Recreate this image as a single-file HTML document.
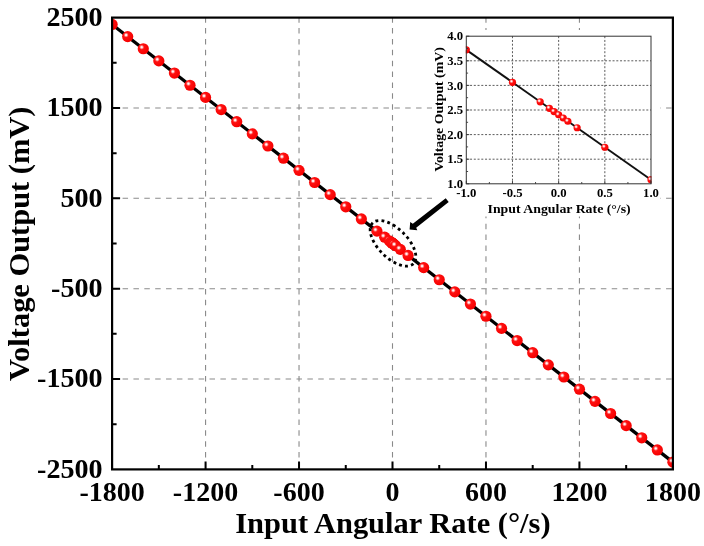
<!DOCTYPE html>
<html><head><meta charset="utf-8"><title>chart</title>
<style>html,body{margin:0;padding:0;background:#fff}svg{display:block}svg{will-change:transform}text{font-family:"Liberation Serif",serif;font-weight:bold;fill:#000}</style>
</head><body>
<svg width="704" height="546" viewBox="0 0 704 546">
<defs>
<radialGradient id="ball" cx="0.36" cy="0.36" r="0.66" fx="0.36" fy="0.36"><stop offset="0" stop-color="#ffffff"/><stop offset="0.10" stop-color="#ffe8e8"/><stop offset="0.22" stop-color="#ff7070"/><stop offset="0.34" stop-color="#ff1010"/><stop offset="1" stop-color="#f40000"/></radialGradient>
<radialGradient id="ball2" cx="0.36" cy="0.36" r="0.66" fx="0.36" fy="0.36"><stop offset="0" stop-color="#ffffff"/><stop offset="0.14" stop-color="#ffe0e0"/><stop offset="0.28" stop-color="#ff7070"/><stop offset="0.42" stop-color="#ff1010"/><stop offset="1" stop-color="#f40000"/></radialGradient>
<clipPath id="cpm"><rect x="111.1" y="16.6" width="562.8" height="453.8"/></clipPath>
</defs>
<rect width="704" height="546" fill="#fff"/>
<path d="M205.57 17.60V469.40M299.03 17.60V469.40M392.50 17.60V469.40M485.97 17.60V469.40M579.43 17.60V469.40M112.10 379.04H672.90M112.10 288.68H672.90M112.10 198.32H672.90M112.10 107.96H672.90" fill="none" stroke="#8a8a8a" stroke-width="1.1" stroke-dasharray="5.5 5.37" stroke-dashoffset="0.4"/>
<g clip-path="url(#cpm)">
<line x1="112.10" y1="24.44" x2="672.90" y2="462.13" stroke="#000" stroke-width="3.3"/>
<circle cx="112.10" cy="24.44" r="5.6" fill="url(#ball)"/>
<circle cx="127.68" cy="36.60" r="5.6" fill="url(#ball)"/>
<circle cx="143.26" cy="48.76" r="5.6" fill="url(#ball)"/>
<circle cx="158.83" cy="60.91" r="5.6" fill="url(#ball)"/>
<circle cx="174.41" cy="73.07" r="5.6" fill="url(#ball)"/>
<circle cx="189.99" cy="85.23" r="5.6" fill="url(#ball)"/>
<circle cx="205.57" cy="97.39" r="5.6" fill="url(#ball)"/>
<circle cx="221.14" cy="109.55" r="5.6" fill="url(#ball)"/>
<circle cx="236.72" cy="121.70" r="5.6" fill="url(#ball)"/>
<circle cx="252.30" cy="133.86" r="5.6" fill="url(#ball)"/>
<circle cx="267.88" cy="146.02" r="5.6" fill="url(#ball)"/>
<circle cx="283.46" cy="158.18" r="5.6" fill="url(#ball)"/>
<circle cx="299.03" cy="170.34" r="5.6" fill="url(#ball)"/>
<circle cx="314.61" cy="182.49" r="5.6" fill="url(#ball)"/>
<circle cx="330.19" cy="194.65" r="5.6" fill="url(#ball)"/>
<circle cx="345.77" cy="206.81" r="5.6" fill="url(#ball)"/>
<circle cx="361.34" cy="218.97" r="5.6" fill="url(#ball)"/>
<circle cx="376.92" cy="231.13" r="5.6" fill="url(#ball)"/>
<circle cx="384.71" cy="237.20" r="5.6" fill="url(#ball)"/>
<circle cx="389.38" cy="240.85" r="5.6" fill="url(#ball)"/>
<circle cx="390.94" cy="242.07" r="5.6" fill="url(#ball)"/>
<circle cx="391.72" cy="242.68" r="5.6" fill="url(#ball)"/>
<circle cx="392.19" cy="243.04" r="5.6" fill="url(#ball)"/>
<circle cx="392.34" cy="243.16" r="5.6" fill="url(#ball)"/>
<circle cx="392.50" cy="243.28" r="5.6" fill="url(#ball)"/>
<circle cx="392.66" cy="243.40" r="5.6" fill="url(#ball)"/>
<circle cx="392.81" cy="243.53" r="5.6" fill="url(#ball)"/>
<circle cx="393.28" cy="243.89" r="5.6" fill="url(#ball)"/>
<circle cx="394.06" cy="244.50" r="5.6" fill="url(#ball)"/>
<circle cx="395.62" cy="245.71" r="5.6" fill="url(#ball)"/>
<circle cx="400.29" cy="249.36" r="5.6" fill="url(#ball)"/>
<circle cx="408.08" cy="255.44" r="5.6" fill="url(#ball)"/>
<circle cx="423.66" cy="267.60" r="5.6" fill="url(#ball)"/>
<circle cx="439.23" cy="279.76" r="5.6" fill="url(#ball)"/>
<circle cx="454.81" cy="291.91" r="5.6" fill="url(#ball)"/>
<circle cx="470.39" cy="304.07" r="5.6" fill="url(#ball)"/>
<circle cx="485.97" cy="316.23" r="5.6" fill="url(#ball)"/>
<circle cx="501.54" cy="328.39" r="5.6" fill="url(#ball)"/>
<circle cx="517.12" cy="340.55" r="5.6" fill="url(#ball)"/>
<circle cx="532.70" cy="352.70" r="5.6" fill="url(#ball)"/>
<circle cx="548.28" cy="364.86" r="5.6" fill="url(#ball)"/>
<circle cx="563.86" cy="377.02" r="5.6" fill="url(#ball)"/>
<circle cx="579.43" cy="389.18" r="5.6" fill="url(#ball)"/>
<circle cx="595.01" cy="401.34" r="5.6" fill="url(#ball)"/>
<circle cx="610.59" cy="413.49" r="5.6" fill="url(#ball)"/>
<circle cx="626.17" cy="425.65" r="5.6" fill="url(#ball)"/>
<circle cx="641.74" cy="437.81" r="5.6" fill="url(#ball)"/>
<circle cx="657.32" cy="449.97" r="5.6" fill="url(#ball)"/>
<circle cx="672.90" cy="462.13" r="5.6" fill="url(#ball)"/>
</g>
<rect x="112.10" y="17.60" width="560.80" height="451.80" fill="none" stroke="#000" stroke-width="2.2"/>
<path d="M158.83 469.40v-4.50M205.57 469.40v-8.00M252.30 469.40v-4.50M299.03 469.40v-8.00M345.77 469.40v-4.50M392.50 469.40v-8.00M439.23 469.40v-4.50M485.97 469.40v-8.00M532.70 469.40v-4.50M579.43 469.40v-8.00M626.17 469.40v-4.50M112.10 424.22h4.50M112.10 379.04h8.00M112.10 333.86h4.50M112.10 288.68h8.00M112.10 243.50h4.50M112.10 198.32h8.00M112.10 153.14h4.50M112.10 107.96h8.00M112.10 62.78h4.50" fill="none" stroke="#000" stroke-width="2"/>
<text transform="translate(112.10,500.6) scale(0.995,1)" font-size="28.2" text-anchor="middle">-1800</text>
<text transform="translate(205.57,500.6) scale(0.995,1)" font-size="28.2" text-anchor="middle">-1200</text>
<text transform="translate(299.03,500.6) scale(0.995,1)" font-size="28.2" text-anchor="middle">-600</text>
<text transform="translate(392.50,500.6) scale(0.995,1)" font-size="28.2" text-anchor="middle">0</text>
<text transform="translate(485.97,500.6) scale(0.995,1)" font-size="28.2" text-anchor="middle">600</text>
<text transform="translate(579.43,500.6) scale(0.995,1)" font-size="28.2" text-anchor="middle">1200</text>
<text transform="translate(672.90,500.6) scale(0.995,1)" font-size="28.2" text-anchor="middle">1800</text>
<text transform="translate(102.6,477.60) scale(1,1)" font-size="28.1" text-anchor="end">-2500</text>
<text transform="translate(102.6,387.24) scale(1,1)" font-size="28.1" text-anchor="end">-1500</text>
<text transform="translate(102.6,296.88) scale(1,1)" font-size="28.1" text-anchor="end">-500</text>
<text transform="translate(102.6,206.52) scale(1,1)" font-size="28.1" text-anchor="end">500</text>
<text transform="translate(102.6,116.16) scale(1,1)" font-size="28.1" text-anchor="end">1500</text>
<text transform="translate(102.6,25.80) scale(1,1)" font-size="28.1" text-anchor="end">2500</text>
<text transform="translate(392.9,532.8) scale(1.065,1)" font-size="28.6" text-anchor="middle">Input Angular Rate (°/s)</text>
<text transform="translate(29,243.8) rotate(-90) scale(1.065,1)" font-size="28.6" text-anchor="middle">Voltage Output (mV)</text>
<rect x="432" y="30" width="228.3" height="186.5" fill="#fff"/>
<path d="M512.48 36.20V183.80M558.65 36.20V183.80M604.83 36.20V183.80M466.30 159.20H651.00M466.30 134.60H651.00M466.30 110.00H651.00M466.30 85.40H651.00M466.30 60.80H651.00" fill="none" stroke="#484848" stroke-width="0.9" stroke-dasharray="2 1.75"/>
<clipPath id="cpi"><rect x="465.8" y="35.7" width="185.7" height="148.6"/></clipPath>
<g clip-path="url(#cpi)">
<line x1="466.30" y1="49.83" x2="651.00" y2="179.72" stroke="#111" stroke-width="1.95"/>
<circle cx="466.30" cy="49.83" r="3.6" fill="url(#ball2)"/>
<circle cx="512.48" cy="82.30" r="3.6" fill="url(#ball2)"/>
<circle cx="540.18" cy="101.78" r="3.6" fill="url(#ball2)"/>
<circle cx="549.41" cy="108.28" r="3.6" fill="url(#ball2)"/>
<circle cx="554.03" cy="111.53" r="3.6" fill="url(#ball2)"/>
<circle cx="558.65" cy="114.77" r="3.6" fill="url(#ball2)"/>
<circle cx="563.27" cy="118.02" r="3.6" fill="url(#ball2)"/>
<circle cx="567.88" cy="121.27" r="3.6" fill="url(#ball2)"/>
<circle cx="577.12" cy="127.76" r="3.6" fill="url(#ball2)"/>
<circle cx="604.83" cy="147.24" r="3.6" fill="url(#ball2)"/>
<circle cx="651.00" cy="179.72" r="3.6" fill="url(#ball2)"/>
</g>
<rect x="466.30" y="36.20" width="184.70" height="147.60" fill="none" stroke="#333" stroke-width="1"/>
<path d="M466.30 183.80v-3.00M489.39 183.80v-1.80M512.48 183.80v-3.00M535.56 183.80v-1.80M558.65 183.80v-3.00M581.74 183.80v-1.80M604.83 183.80v-3.00M627.91 183.80v-1.80M651.00 183.80v-3.00M466.30 183.80h3.00M466.30 171.50h1.80M466.30 159.20h3.00M466.30 146.90h1.80M466.30 134.60h3.00M466.30 122.30h1.80M466.30 110.00h3.00M466.30 97.70h1.80M466.30 85.40h3.00M466.30 73.10h1.80M466.30 60.80h3.00M466.30 48.50h1.80M466.30 36.20h3.00" fill="none" stroke="#333" stroke-width="0.9"/>
<text x="466.30" y="196.6" font-size="12.7" text-anchor="middle">-1.0</text>
<text x="512.48" y="196.6" font-size="12.7" text-anchor="middle">-0.5</text>
<text x="558.65" y="196.6" font-size="12.7" text-anchor="middle">0.0</text>
<text x="604.83" y="196.6" font-size="12.7" text-anchor="middle">0.5</text>
<text x="651.00" y="196.6" font-size="12.7" text-anchor="middle">1.0</text>
<text x="463.1" y="188.00" font-size="12.7" text-anchor="end">1.0</text>
<text x="463.1" y="163.40" font-size="12.7" text-anchor="end">1.5</text>
<text x="463.1" y="138.80" font-size="12.7" text-anchor="end">2.0</text>
<text x="463.1" y="114.20" font-size="12.7" text-anchor="end">2.5</text>
<text x="463.1" y="89.60" font-size="12.7" text-anchor="end">3.0</text>
<text x="463.1" y="65.00" font-size="12.7" text-anchor="end">3.5</text>
<text x="463.1" y="40.40" font-size="12.7" text-anchor="end">4.0</text>
<text transform="translate(559.1,213.2) scale(1.065,1)" font-size="13" text-anchor="middle">Input Angular Rate (°/s)</text>
<text transform="translate(442.8,109.5) rotate(-90) scale(1.065,1)" font-size="13" text-anchor="middle">Voltage Output (mV)</text>
<ellipse cx="393" cy="243.3" rx="28.8" ry="14.6" transform="rotate(45 393 243.3)" fill="none" stroke="#000" stroke-width="2.8" stroke-dasharray="2.9 3.2"/>
<path d="M445.7 198.2L448.7 202L416.2 227.8L417.3 230.2L409.6 229.6L410.2 221.9L412.8 223.8Z" fill="#000"/>
</svg>
</body></html>
